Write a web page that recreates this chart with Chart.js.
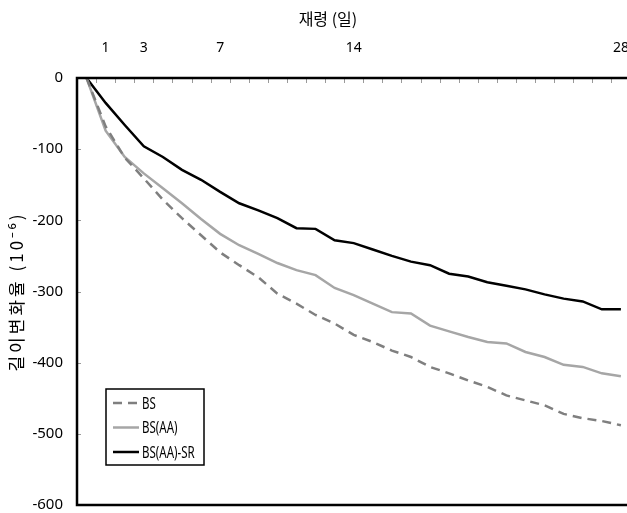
<!DOCTYPE html>
<html>
<head>
<meta charset="utf-8">
<script src="https://cdn.jsdelivr.net/npm/chart.js@4.4.1/dist/chart.umd.min.js"></script>
<style>
  html, body { margin: 0; padding: 0; background: #fff; overflow: hidden; }
  #wrap { width: 627px; height: 513px; }
</style>
</head>
<body>
<div id="wrap"><canvas id="chart"></canvas></div>
<script>
// age in days (categories)
const ageDays = [0, 1, 2, 3, 4, 5, 6, 7, 8, 9, 10, 11, 12, 13, 14, 15, 16, 17, 18, 19, 20, 21, 22, 23, 24, 25, 26, 27, 28];
const tickDays = [1, 3, 7, 14, 28];
const yTicks = [0, -100, -200, -300, -400, -500, -600];

// length change (x10^-6)
const bsValues = [0, -68, -112, -141, -171, -197, -221, -245, -263, -280, -303, -317, -333, -345, -361, -371, -383, -392, -406, -415, -425, -434, -446, -453, -460, -472, -478, -482, -488];
const bsaaValues = [0, -74, -111, -134, -155, -176, -198, -219, -235, -247, -260, -270, -277, -295, -305, -317, -329, -331, -348, -356, -364, -371, -373, -385, -392, -403, -406, -415, -419];
const srValues = [0, -35, -66, -96, -111, -129, -143, -160, -176, -186, -197, -211, -212, -228, -232, -241, -250, -258, -263, -275, -279, -287, -292, -297, -304, -310, -314, -325, -325];

const seriesNames = ['BS', 'BS(AA)', 'BS(AA)-SR'];
const xTitle = '재령 (일)';
const yTitle = '길이변화율 (10⁻⁶)';

const KR_FONT = '"Noto Sans CJK KR", "Noto Sans", sans-serif';
const NUM_FONT = '"Noto Sans", sans-serif';

const toPoints = (vals) => vals.map((v, i) => ({ x: ageDays[i], y: v }));

//draws the frame, inside tick marks, axis titles and the boxed legend
const framePlugin = {
  id: 'frame',
  afterDraw(chart) {
    const { ctx, chartArea: a, scales } = chart;
    ctx.save();

    //small inside ticks
    ctx.strokeStyle = '#9a9a9a';
    ctx.lineWidth = 1;
    ctx.beginPath();
    for (let i = 0; i < ageDays.length - 1; i++) {
      const px = Math.round(scales.x.getPixelForValue(ageDays[i] + 0.5)) + 0.5;
      ctx.moveTo(px, a.top);
      ctx.lineTo(px, a.top + 5);
    }
    yTicks.forEach((v) => {
      const py = Math.round(scales.y.getPixelForValue(v)) + 0.5;
      ctx.moveTo(a.left, py);
      ctx.lineTo(a.left + 4, py);
    });
    ctx.stroke();

    //axis lines
    ctx.strokeStyle = '#000';
    ctx.lineWidth = 2.5;
    ctx.beginPath();
    ctx.moveTo(a.right, a.top);
    ctx.lineTo(a.left, a.top);
    ctx.lineTo(a.left, a.bottom);
    ctx.lineTo(a.right, a.bottom);
    ctx.stroke();

    //axis titles
    ctx.fillStyle = '#000';
    ctx.textAlign = 'center';
    ctx.textBaseline = 'middle';
    ctx.font = '16px ' + KR_FONT;
    ctx.fillText(xTitle, chart.width * 0.523, 19);

    ctx.save();
    ctx.translate(17, (a.top + a.bottom) / 2);
    ctx.rotate(-Math.PI / 2);
    ctx.font = '17px ' + KR_FONT;
    ctx.letterSpacing = '3px';
    ctx.fillText(yTitle, 0, 0);
    ctx.restore();

    //legend box
    const bx = a.left + 29, by = a.bottom - 116, bw = 98, bh = 76;
    ctx.fillStyle = '#fff';
    ctx.fillRect(bx, by, bw, bh);
    ctx.lineWidth = 1.5;
    ctx.strokeStyle = '#000';
    ctx.strokeRect(bx, by, bw, bh);

    ctx.textBaseline = 'middle';
    ctx.textAlign = 'left';
    chart.data.datasets.forEach((ds, i) => {
      const ly = by + 14 + i * 24.5;
      ctx.beginPath();
      ctx.strokeStyle = ds.borderColor;
      ctx.lineWidth = ds.borderWidth;
      ctx.setLineDash(ds.borderDash || []);
      ctx.moveTo(bx + 7, ly);
      ctx.lineTo(bx + 33, ly);
      ctx.stroke();
      ctx.setLineDash([]);
      //narrow text like the original
      ctx.save();
      ctx.translate(bx + 36, ly + 1);
      ctx.scale(0.72, 1);
      ctx.font = '16px ' + NUM_FONT;
      ctx.fillStyle = '#000';
      ctx.fillText(ds.label, 0, 0);
      ctx.restore();
    });
    ctx.restore();
  },
};

new Chart(document.getElementById('chart'), {
  type: 'line',
  data: {
    datasets: [
      {
        label: seriesNames[0],
        data: toPoints(bsValues),
        borderColor: '#7f7f7f',
        borderWidth: 2.5,
        borderDash: [9, 6],
        pointRadius: 0,
        tension: 0,
      },
      {
        label: seriesNames[1],
        data: toPoints(bsaaValues),
        borderColor: '#a6a6a6',
        borderWidth: 2.5,
        pointRadius: 0,
        tension: 0,
      },
      {
        label: seriesNames[2],
        data: toPoints(srValues),
        borderColor: '#000000',
        borderWidth: 2.5,
        pointRadius: 0,
        tension: 0,
      },
    ],
  },
  options: {
    responsive: true,
    maintainAspectRatio: false,
    animation: false,
    layout: { padding: { left: 0, right: 0, top: 0, bottom: 8 } },
    plugins: {
      legend: { display: false },
      tooltip: { enabled: false },
    },
    scales: {
      x: {
        type: 'linear',
        position: 'top',
        min: -0.5,
        max: 28.32,
        afterBuildTicks: (scale) => {
          scale.ticks = tickDays.map((v) => ({ value: v }));
        },
        afterFit: (scale) => {
          scale.height = 78;
          scale.paddingLeft = 0;
          scale.paddingRight = 0;
        },
        grid: { display: false, drawTicks: false },
        border: { display: false },
        ticks: {
          color: '#000',
          padding: 22,
          maxRotation: 0,
          autoSkip: false,
          font: { family: NUM_FONT, size: 14 },
        },
      },
      y: {
        min: -600,
        max: 0,
        afterBuildTicks: (scale) => {
          scale.ticks = yTicks.map((v) => ({ value: v }));
        },
        afterFit: (scale) => {
          scale.width = 77;
          scale.paddingTop = 0;
          scale.paddingBottom = 0;
        },
        grid: { display: false, drawTicks: false },
        border: { display: false },
        ticks: {
          color: '#000',
          padding: 14,
          font: { family: NUM_FONT, size: 15 },
        },
      },
    },
  },
  plugins: [framePlugin],
});
</script>
</body>
</html>
